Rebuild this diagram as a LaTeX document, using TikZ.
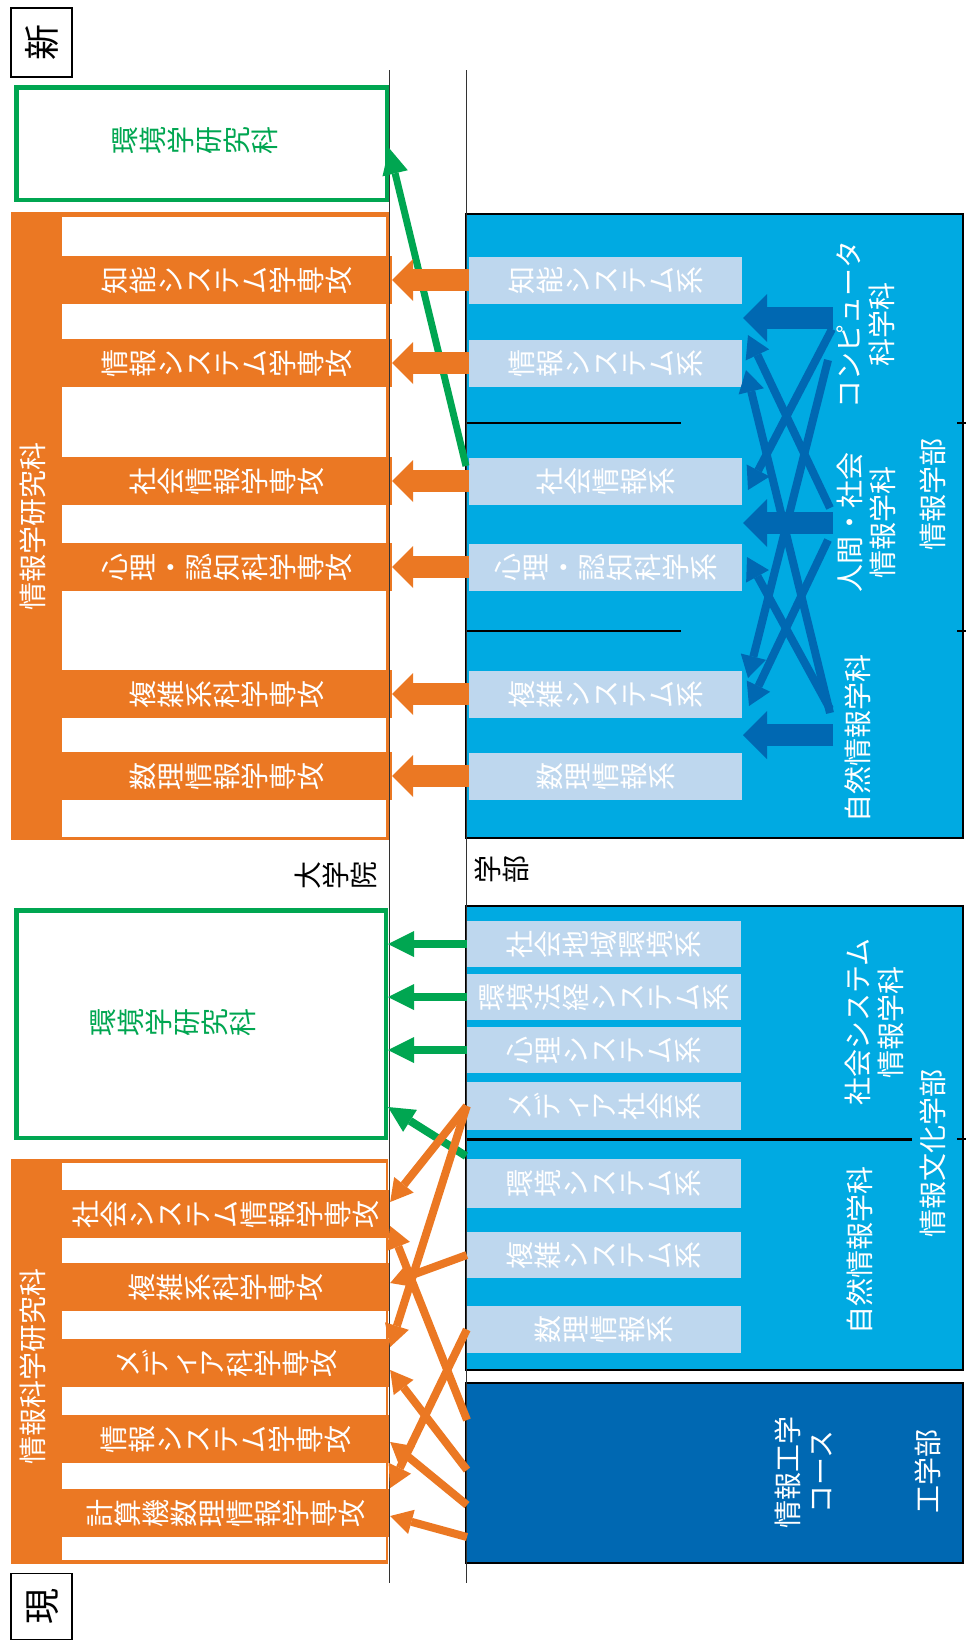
\documentclass[tikz,border=0pt]{standalone}
\usepackage{fontspec}
\setmainfont{Noto Sans CJK JP}
\usepackage{graphicx}
\usetikzlibrary{arrows.meta}
\definecolor{oran}{RGB}{235,120,35}
\definecolor{grn}{RGB}{0,166,81}
\definecolor{cyn}{RGB}{0,170,226}
\definecolor{lite}{RGB}{190,215,238}
\definecolor{dblu}{RGB}{0,104,178}
\newcommand\vtc[1]{\rotatebox{90}{\raisebox{0pt}[0.88em][0.12em]{#1}}}
\def\vtloop#1{\ifx\relax#1\else\vtc{#1}\expandafter\vtloop\fi}
\newcommand\vt[1]{\vtloop#1\relax}
\newcommand\fsA{\fontsize{28}{33}\selectfont}
\newcommand\fsB{\fontsize{36}{36}\selectfont}
\tikzset{
  lbox/.style={fill=lite, inner sep=0pt, text=white, font=\fsA},
  oband/.style={fill=oran, inner sep=0pt, text=white, font=\fsA},
  dlab/.style={rotate=90, text=white, align=center, font=\fsA, inner sep=0pt},
  blab/.style={text=black, font=\fsA, inner sep=0pt},
  bbox/.style={draw=black, line width=1.2pt, inner sep=0pt},
  gbox/.style={draw=grn, line width=4.5pt, inner sep=0pt},
  kbox/.style={draw=black, line width=1.5pt, inner sep=0pt, font=\fsB},
  oarr/.style={draw=oran, line width=22pt, -{Triangle[length=21pt,width=42pt,line width=0pt]}},
  oarrt/.style={draw=oran, line width=8pt, -{Triangle[length=22pt,width=25pt,line width=0pt]}},
  garr/.style={draw=grn, line width=8pt, -{Triangle[length=26pt,width=26pt,line width=0pt]}},
  barr/.style={draw=dblu, line width=22pt, -{Triangle[length=24pt,width=48pt,line width=0pt]}},
  barrt/.style={draw=dblu, line width=8pt, -{Triangle[length=22pt,width=26pt,line width=0pt]}},
  vline/.style={draw=black!80, line width=1.6pt},
  divl/.style={draw=black, line width=1.5pt},
}
\begin{document}
\begin{tikzpicture}[x=1pt,y=-1pt]
\useasboundingbox (0,0) rectangle (970,1641);
\fill[white] (0,0) rectangle (970,1641);

% corner labels
\node[kbox, minimum width=61pt, minimum height=69pt] (xin) at (41.5,42.5) {\vt{新}};
\node[kbox, minimum width=61pt, minimum height=66pt] (gen) at (41.5,1606.5) {\vt{現}};

% orange frames
\node[fill=oran, minimum width=379pt, minimum height=628pt, inner sep=0pt] (of1) at (200.5,526) {};
\node[fill=white, minimum width=324pt, minimum height=620pt, inner sep=0pt] (if1) at (224,527) {};
\node[fill=oran, minimum width=377pt, minimum height=405pt, inner sep=0pt] (of2) at (199.5,1361.5) {};
\node[fill=white, minimum width=324pt, minimum height=397pt, inner sep=0pt] (if2) at (224,1361.5) {};
\node[dlab] (gsA) at (33,526) {情報学研究科};
\node[dlab] (gsB) at (33,1366) {情報科学研究科};

% upper bands
\node[oband, minimum width=330pt, minimum height=48pt] (g1) at (227,280) {\vt{知能システム学専攻}};
\node[oband, minimum width=330pt, minimum height=48pt] (g2) at (227,363) {\vt{情報システム学専攻}};
\node[oband, minimum width=330pt, minimum height=48pt] (g3) at (227,481) {\vt{社会情報学専攻}};
\node[oband, minimum width=330pt, minimum height=48pt] (g4) at (227,567) {\vt{心理・認知科学専攻}};
\node[oband, minimum width=330pt, minimum height=48pt] (g5) at (227,694) {\vt{複雑系科学専攻}};
\node[oband, minimum width=330pt, minimum height=48pt] (g6) at (227,776) {\vt{数理情報学専攻}};

% lower bands
\node[oband, minimum width=328pt, minimum height=48pt] (h1) at (226,1214) {\vt{社会システム情報学専攻}};
\node[oband, minimum width=328pt, minimum height=48pt] (h2) at (226,1287) {\vt{複雑系科学専攻}};
\node[oband, minimum width=328pt, minimum height=48pt] (h3) at (226,1363) {\vt{メディア科学専攻}};
\node[oband, minimum width=328pt, minimum height=48pt] (h4) at (226,1439) {\vt{情報システム学専攻}};
\node[oband, minimum width=328pt, minimum height=48pt] (h5) at (226,1513) {\vt{計算機数理情報学専攻}};

% green boxes
\node[gbox, minimum width=370.5pt, minimum height=112.5pt] (G1) at (201.5,143.5) {};
\node[text=grn, font=\fsA, inner sep=0pt] (G1t) at (195,140) {\vt{環境学研究科}};
\node[gbox, minimum width=369.5pt, minimum height=227.5pt] (G2) at (201,1024) {};
\node[text=grn, font=\fsA, inner sep=0pt] (G2t) at (173,1022) {\vt{環境学研究科}};

% blue boxes
\node[bbox, fill=cyn, minimum width=497pt, minimum height=624pt] (B1) at (714.5,526) {};
\node[bbox, fill=cyn, minimum width=497pt, minimum height=464pt] (B2) at (714.5,1138) {};
\node[bbox, fill=dblu, minimum width=497pt, minimum height=180pt] (B3) at (714.5,1473) {};
\draw[divl] (466,423) -- (681,423);
\draw[divl] (466,631) -- (681,631);
\draw[divl] (957,423) -- (966,423);
\draw[divl] (957,631) -- (966,631);
\draw[draw=black, line width=3pt] (466,1139) -- (912,1139);
\draw[divl] (957,1139) -- (966,1139);

% upper light boxes
\node[lbox, minimum width=273pt, minimum height=47pt] (u1) at (605.5,280) {\vt{知能システム系}};
\node[lbox, minimum width=273pt, minimum height=47pt] (u2) at (605.5,363) {\vt{情報システム系}};
\node[lbox, minimum width=273pt, minimum height=47pt] (u3) at (605.5,481) {\vt{社会情報系}};
\node[lbox, minimum width=273pt, minimum height=47pt] (u4) at (605.5,567) {\vt{心理・認知科学系}};
\node[lbox, minimum width=273pt, minimum height=47pt] (u5) at (605.5,694) {\vt{複雑システム系}};
\node[lbox, minimum width=273pt, minimum height=47pt] (u6) at (605.5,776) {\vt{数理情報系}};

% lower light boxes
\node[lbox, minimum width=274pt, minimum height=46pt] (l1) at (604,944) {\vt{社会地域環境系}};
\node[lbox, minimum width=274pt, minimum height=46pt] (l2) at (604,997) {\vt{環境法経システム系}};
\node[lbox, minimum width=274pt, minimum height=46pt] (l3) at (604,1050) {\vt{心理システム系}};
\node[lbox, minimum width=274pt, minimum height=48pt] (l4) at (604,1106) {\vt{メディア社会系}};
\node[lbox, minimum width=274pt, minimum height=49pt] (l5) at (604,1183.5) {\vt{環境システム系}};
\node[lbox, minimum width=274pt, minimum height=46pt] (l6) at (604,1255) {\vt{複雑システム系}};
\node[lbox, minimum width=274pt, minimum height=47pt] (l7) at (604,1329.5) {\vt{数理情報系}};

% department labels
\node[dlab] (dCS) at (866,324) {コンピュータ\\科学科};
\node[dlab] (dHS) at (866,522) {人間・社会\\情報学科};
\node[dlab] (dNI) at (858,738) {自然情報学科};
\node[dlab] (fI) at (933,494) {情報学部};
\node[dlab] (dSS) at (874,1022) {社会システム\\情報学科};
\node[dlab] (dNI2) at (860,1250) {自然情報学科};
\node[dlab] (fIC) at (933,1153) {情報文化学部};
\node[dlab] (dIE) at (804,1472) {情報工学\\コース};
\node[dlab] (fE) at (928,1471) {工学部};

% axis lines
\draw[vline] (389.5,70) -- (389.5,1583);
\draw[vline] (466.5,70) -- (466.5,1583);
\node[blab] (dai) at (336,875) {\vt{大学院}};
\node[blab] (gak) at (502,869) {\vt{学部}};

% green arrows
\coordinate (gtA) at (466,466);
\draw[garr, line width=7pt] (gtA) -- (G1.east |- 0,148);
\draw[garr] (l1.west) -- (l1.west -| G2.east);
\draw[garr] (l2.west) -- (l2.west -| G2.east);
\draw[garr] (l3.west) -- (l3.west -| G2.east);
\coordinate (gtB) at (466,1156);
\draw[garr] (gtB) -- (G2.east |- 0,1107);

% orange arrows upper
\draw[oarr] (u1.west) -- (u1.west -| g1.east);
\draw[oarr] (u2.west) -- (u2.west -| g2.east);
\draw[oarr] (u3.west) -- (u3.west -| g3.east);
\draw[oarr] (u4.west) -- (u4.west -| g4.east);
\draw[oarr] (u5.west) -- (u5.west -| g5.east);
\draw[oarr] (u6.west) -- (u6.west -| g6.east);

% orange arrows lower
\coordinate (k1) at (467,1420);
\coordinate (k2) at (467,1470);
\coordinate (k3) at (467,1505);
\coordinate (k4) at (467,1537);
\draw[oarrt] (l4.west) -- (h1.east |- 0,1202);
\draw[oarrt] (k1) -- (h1.east |- 0,1226);
\draw[oarrt] (l6.west) -- (h2.east |- 0,1283);
\draw[oarrt] (l4.west) -- (h3.east |- 0,1347);
\draw[oarrt] (k2) -- (h3.east |- 0,1370);
\draw[oarrt] (k3) -- (h4.east |- 0,1442);
\draw[oarrt] (l7.west) -- (h5.east |- 0,1488);
\draw[oarrt] (k4) -- (h5.east |- 0,1516);

% blue arrows
\coordinate (c1a) at (832,329); \coordinate (c1b) at (748,490);
\coordinate (c2a) at (828,360); \coordinate (c2b) at (748,678);
\coordinate (s1a) at (830,508); \coordinate (s1b) at (748,335);
\coordinate (s2a) at (828,540); \coordinate (s2b) at (749,706);
\coordinate (n1a) at (830,713); \coordinate (n1b) at (746,370);
\coordinate (n2a) at (830,709); \coordinate (n2b) at (747,557);
\draw[barrt] (c1a) -- (c1b);
\draw[barrt] (c2a) -- (c2b);
\draw[barrt] (s1a) -- (s1b);
\draw[barrt] (s2a) -- (s2b);
\draw[barrt] (n1a) -- (n1b);
\draw[barrt] (n2a) -- (n2b);
\coordinate (csT) at (833,318); \coordinate (csH) at (743,318);
\coordinate (hsT) at (833,523); \coordinate (hsH) at (743,523);
\coordinate (niT) at (833,735); \coordinate (niH) at (743,735);
\draw[barr] (csT) -- (csH);
\draw[barr] (hsT) -- (hsH);
\draw[barr] (niT) -- (niH);
\end{tikzpicture}
\end{document}
